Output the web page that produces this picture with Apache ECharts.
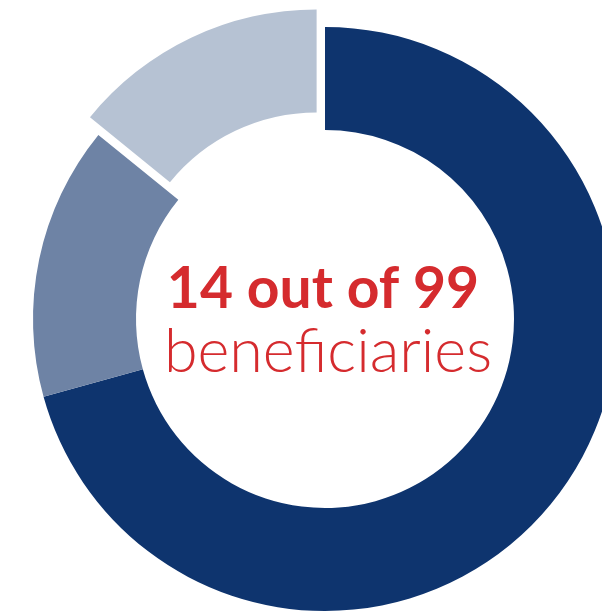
<!DOCTYPE html>
<html>
<head>
<meta charset="utf-8">
<script src="https://cdn.jsdelivr.net/npm/echarts@6/dist/echarts.min.js"></script>
<style>
html,body{margin:0;padding:0;background:#fff;}
#c{width:602px;height:611px;}
</style>
</head>
<body>
<div id="c"></div>
<script>
const categories = ['Group A', 'Group B', 'Beneficiaries'];
const values = [70, 15, 14];
const colors = ['#0e346e', '#6e83a5', '#b6c2d3'];
const headline = '14 out of 99';
const subline = 'beneficiaries';

const chart = echarts.init(document.getElementById('c'));
chart.setOption({
  animation: false,
  backgroundColor: '#ffffff',
  series: [{
    type: 'pie',
    center: [325, 319],
    radius: [189, 292],
    startAngle: 90,
    clockwise: true,
    selectedMode: 'single',
    selectedOffset: 19.5,
    label: { show: false },
    labelLine: { show: false },
    emphasis: { scale: false },
    data: categories.map((c, i) => ({
      name: c,
      value: values[i],
      selected: i === 2,
      itemStyle: { color: colors[i] }
    }))
  }],
  graphic: [
    {
      type: 'text', id: 'h',
      x: 323, y: 290,
      style: {
        text: headline, textAlign: 'center', textVerticalAlign: 'middle',
        fontFamily: 'Lato', fontWeight: 'bold', fontSize: 57, fill: '#d52b2e'
      }
    },
    {
      type: 'text', id: 's',
      x: 328, y: 352,
      style: {
        text: subline, textAlign: 'center', textVerticalAlign: 'middle',
        fontFamily: 'Lato', fontWeight: 300, fontSize: 61, fill: '#d52b2e'
      }
    }
  ]
});
</script>
</body>
</html>
